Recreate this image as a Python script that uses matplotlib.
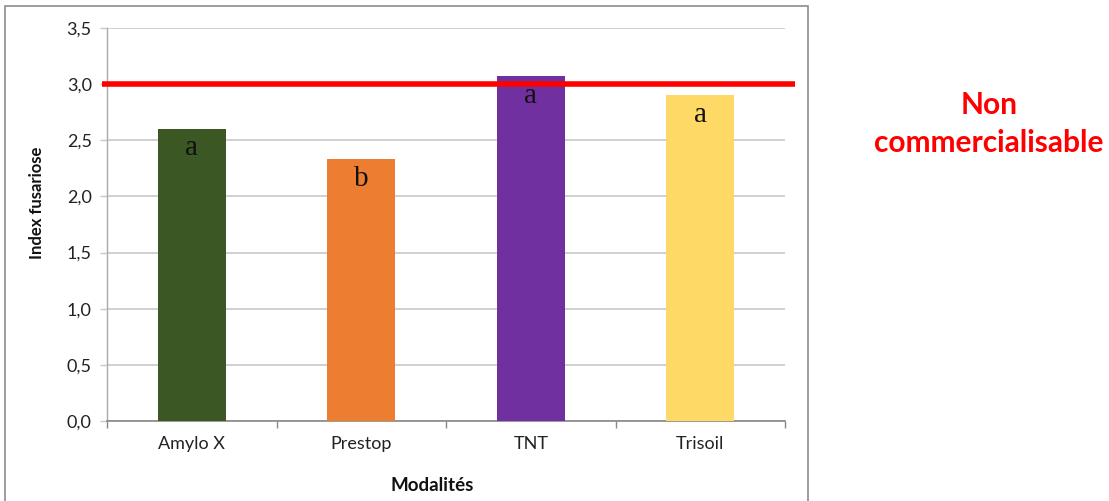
import matplotlib
matplotlib.use("Agg")
import matplotlib.pyplot as plt
from matplotlib.patches import Rectangle
from matplotlib.ticker import FixedLocator, FuncFormatter

categories = ["Amylo X", "Prestop", "TNT", "Trisoil"]
values = [2.6, 2.33, 3.07, 2.9]
letters = ["a", "b", "a", "a"]
colors = ["#3A5724", "#ED7D31", "#7030A0", "#FFD966"]
threshold = 3.0
yticks = [0.0, 0.5, 1.0, 1.5, 2.0, 2.5, 3.0, 3.5]

W, H = 1109, 501
fig = plt.figure(figsize=(W / 100, H / 100), dpi=100)
fig.patch.set_facecolor("white")

# axes box in pixel coords: left 107, right 785, top 28, bottom 421
ax = fig.add_axes([107 / W, 1 - 421 / H, (785 - 107) / W, (421 - 28) / H])

x = list(range(len(categories)))
ax.bar(x, values, width=0.4, color=colors, zorder=3)
ax.set_xlim(-0.5, len(categories) - 0.5)
ax.set_ylim(0, 3.5)

ax.set_yticks(yticks)
ax.yaxis.set_major_formatter(FuncFormatter(lambda v, p: f"{v:.1f}".replace(".", ",")))
ax.grid(axis="y", color="#C8C8C8", linewidth=1.2, zorder=0)
ax.set_axisbelow(True)

ax.set_xticks(x)
ax.set_xticklabels(categories)
ax.xaxis.set_minor_locator(FixedLocator([i - 0.5 for i in range(len(categories) + 1)]))
ax.tick_params(axis="x", which="major", length=0, pad=11, labelsize=13, labelcolor="#222222")
ax.tick_params(axis="x", which="minor", length=5, color="#888888", width=1)
ax.tick_params(axis="y", length=5, color="#C8C8C8", width=1, labelsize=13, labelcolor="#222222", pad=6)

for s in ["top", "right"]:
    ax.spines[s].set_visible(False)
ax.spines["left"].set_color("#AAAAAA")
ax.spines["bottom"].set_color("#888888")
ax.spines["left"].set_linewidth(1)
ax.spines["bottom"].set_linewidth(1.2)

for lbl in ax.get_xticklabels() + ax.get_yticklabels():
    lbl.set_family("Lato")

# threshold line extending slightly beyond axes
ax.plot([-0.53, 3.56], [threshold, threshold], color="#FF0000", linewidth=4, clip_on=False, zorder=5,
        solid_capstyle="butt")

for xi, v, l in zip(x, values, letters):
    ax.annotate(l, (xi, v), xytext=(0, -4.5), textcoords="offset points", ha="center", va="top",
                family="Liberation Serif", fontsize=21, color="#111111", zorder=6)

ax.set_ylabel("Index fusariose", family="Lato", fontweight="bold", fontsize=12, color="#111111")
ax.yaxis.set_label_coords(-0.092, 0.555)
ax.set_xlabel("Modalités", family="Lato", fontweight="bold", fontsize=13.5, color="#111111")
ax.xaxis.set_label_coords(0.48, -0.142)

# outer chart frame
fig.add_artist(Rectangle((5 / W, -0.01), (808 - 5) / W, 1 - 6 / H + 0.01, transform=fig.transFigure,
                         fill=False, edgecolor="#8C8C8C", linewidth=1.2))

fig.text(989 / W, 1 - 105 / H, "Non", color="#FF0000", family="Lato", fontweight="bold",
         fontsize=21.5, ha="center", va="center")
fig.text(989 / W, 1 - 143 / H, "commercialisable", color="#FF0000", family="Lato", fontweight="bold",
         fontsize=21.5, ha="center", va="center")

fig.savefig("out.png", dpi=100, facecolor="white")
